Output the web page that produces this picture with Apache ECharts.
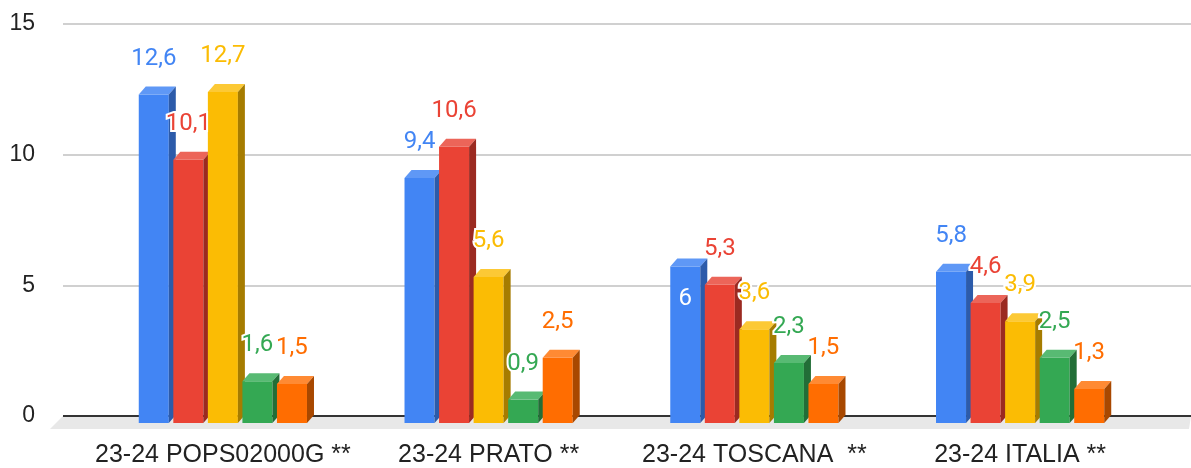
<!DOCTYPE html>
<html>
<head>
<meta charset="utf-8">
<script src="https://cdn.jsdelivr.net/npm/echarts@6/dist/echarts.min.js"></script>
<style>
  html, body { margin: 0; padding: 0; background: #fff; }
  #chart { width: 1191px; height: 468px; }
</style>
</head>
<body>
<div id="chart"></div>
<script>
var categories = ['23-24 POPS02000G **', '23-24 PRATO **', '23-24 TOSCANA  **', '23-24 ITALIA **'];
var serie1 = [12.6, 9.4, 6, 5.8];
var serie2 = [10.1, 10.6, 5.3, 4.6];
var serie3 = [12.7, 5.6, 3.6, 3.9];
var serie4 = [1.6, 0.9, 2.3, 2.5];
var serie5 = [1.5, 2.5, 1.5, 1.3];
var yTicks = [0, 5, 10, 15];

// front / top / side colour of each 3d bar
var palette = [
  ['#4285F4', '#5F98F6', '#2C5BAA'],
  ['#EA4335', '#EC6559', '#9B2A21'],
  ['#FBBC04', '#FCC935', '#A67C00'],
  ['#34A853', '#58BA73', '#226E37'],
  ['#FF6D01', '#FF8A33', '#A84800']
];
var allSeries = [serie1, serie2, serie3, serie4, serie5];

function fmt(v) {
  return String(v).replace('.', ',');
}

function barRender(idx) {
  var col = palette[idx];
  return function (params, api) {
    var cat = api.value(0), v = api.value(1);
    var top = api.coord([cat, v]);
    var base = api.coord([cat, 0]);
    var band = api.size([1, 0])[0];
    var w = band * 0.113, pitch = band * 0.13;
    var dx = 7, dy = 8;
    var x0 = top[0] - (4 * pitch + w) / 2 + idx * pitch;
    var x1 = x0 + w;
    var yT = top[1] + dy, yB = base[1] + dy;
    // the blue Toscana label sits inside its bar in the original
    var inside = (cat === 2 && idx === 0);
    var label = {
      type: 'text',
      z2: 100,
      x: x0 + w / 2,
      y: inside ? top[1] + 40 : top[1] - 28,
      style: {
        text: fmt(v),
        fill: inside ? '#fff' : col[0],
        font: '24px Roboto',
        align: 'center',
        verticalAlign: 'middle',
        stroke: inside ? null : '#fff',
        lineWidth: inside ? 0 : 4
      }
    };
    return {
      type: 'group',
      children: [
        { type: 'rect', shape: { x: x0, y: yT, width: w, height: yB - yT }, style: { fill: col[0] } },
        { type: 'polygon', shape: { points: [[x0, yT], [x1, yT], [x1 + dx, yT - dy], [x0 + dx, yT - dy]] }, style: { fill: col[1] } },
        { type: 'polygon', shape: { points: [[x1, yT], [x1, yB], [x1 + dx, yB - dy], [x1 + dx, yT - dy]] }, style: { fill: col[2] } },
        label
      ]
    };
  };
}

function floorRender(params, api) {
  var cs = params.coordSys;
  var y0 = cs.y + cs.height;
  return {
    type: 'group',
    children: [
      { type: 'polygon', shape: { points: [[cs.x, y0], [cs.x + cs.width, y0], [cs.x + cs.width - 2, y0 + 13], [cs.x - 13, y0 + 13]] }, style: { fill: '#e8e8e8' } },
      { type: 'line', shape: { x1: cs.x, y1: y0, x2: cs.x + cs.width, y2: y0 }, style: { stroke: '#333', lineWidth: 2 } }
    ]
  };
}

var series = [{
  type: 'custom',
  xAxisIndex: 0,
  yAxisIndex: 0,
  z: 1,
  silent: true,
  renderItem: floorRender,
  data: [[0, 0]]
}];
allSeries.forEach(function (vals, i) {
  series.push({
    type: 'custom',
    name: 'Serie ' + (i + 1),
    xAxisIndex: 1,
    yAxisIndex: 1,
    z: 2,
    renderItem: barRender(i),
    encode: { x: 0, y: 1 },
    data: vals.map(function (v, c) { return [c, v]; })
  });
});

var chart = echarts.init(document.getElementById('chart'));
chart.setOption({
  animation: false,
  grid: [
    { left: 63, right: 0, top: 24, bottom: 52 },
    { left: 90, right: 38, top: 24, bottom: 52 }
  ],
  xAxis: [
    { gridIndex: 0, type: 'value', min: 0, max: 1, show: false },
    {
      gridIndex: 1,
      type: 'category',
      data: categories,
      axisLine: { show: false },
      axisTick: { show: false },
      axisLabel: { interval: 0, margin: 28, fontSize: 25, color: '#222', fontFamily: 'Liberation Sans' }
    }
  ],
  yAxis: [
    {
      gridIndex: 0,
      type: 'value',
      min: yTicks[0],
      max: yTicks[yTicks.length - 1],
      interval: yTicks[1] - yTicks[0],
      axisLine: { show: false },
      axisTick: { show: false },
      splitLine: { lineStyle: { color: '#d0d0d0', width: 2 } },
      axisLabel: { margin: 28, fontSize: 23, color: '#222', fontFamily: 'Liberation Sans' }
    },
    {
      gridIndex: 1,
      type: 'value',
      min: yTicks[0],
      max: yTicks[yTicks.length - 1],
      interval: yTicks[1] - yTicks[0],
      show: false
    }
  ],
  series: series
});
</script>
</body>
</html>
